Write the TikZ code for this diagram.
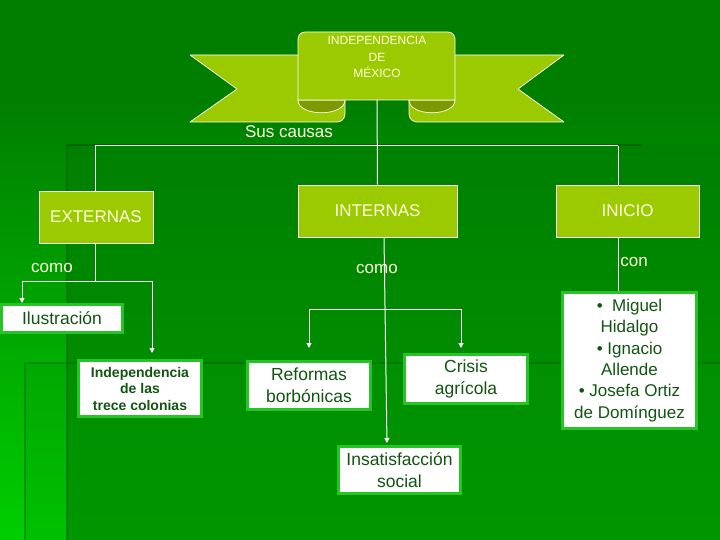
\documentclass[tikz,border=0pt]{standalone}
\usepackage{fontspec}
\setmainfont{Liberation Sans}
\usetikzlibrary{arrows.meta}
\definecolor{yg}{RGB}{155,202,0}
\definecolor{foldc}{RGB}{125,155,0}
\definecolor{cream}{RGB}{255,255,222}
\definecolor{dkg}{RGB}{18,84,18}
\definecolor{bord}{RGB}{38,196,38}
\definecolor{bgtop}{RGB}{0,126,0}
\definecolor{bgleft}{RGB}{0,206,0}
\definecolor{rectatop}{RGB}{0,128,0}
\definecolor{rectabot}{RGB}{0,150,0}
\definecolor{edge}{RGB}{0,95,0}
\tikzset{
  ygbox/.style={draw=white, line width=0.8pt, fill=yg, text=cream, inner sep=0pt,
    font=\fontsize{17}{20}\selectfont},
  wbox/.style={draw=bord, line width=3pt, fill=white, text=dkg, inner sep=0pt, align=center,
    font=\fontsize{17.5}{22}\selectfont},
  lbl/.style={text=cream, inner sep=0pt, font=\fontsize{17}{20}\selectfont},
  conn/.style={draw=white, line width=1pt},
  arr/.style={conn, -{Triangle[width=5pt,length=5pt]}},
  ribbon/.style={fill=yg, draw=white, line width=0.7pt, line join=round},
  foldpart/.style={fill=foldc, draw=white, line width=0.7pt}
}
\begin{document}
\begin{tikzpicture}[x=1pt,y=-1pt]
\useasboundingbox (0,0) rectangle (720,540);
% background
\fill[bgtop] (0,0) rectangle (720,540);
\shade[top color=bgtop, bottom color=bgleft] (0,100) rectangle (720,540);
\shade[top color=rectatop, bottom color=rectabot] (67,145) rectangle (720,540);
\fill[green!60!black, opacity=0.25] (25,363) rectangle (720,540);
\draw[edge, line width=2.5pt, opacity=0.8] (67,145) -- (642,145);
\draw[edge, line width=2.5pt, opacity=0.5] (67,145) -- (67,540);
\draw[edge, line width=2pt, opacity=0.45] (25,363) -- (720,363);
\draw[edge, line width=2pt, opacity=0.45] (25,363) -- (25,540);
% ribbon
\filldraw[ribbon] (190,55) -- (345,55) [rounded corners=8] -- (345,122) [sharp corners] -- (190,122) -- (237,89) -- cycle;
\filldraw[ribbon] (564,55) -- (409,55) [rounded corners=8] -- (409,122) [sharp corners] -- (564,122) -- (518,89) -- cycle;
\filldraw[foldpart] (298,100) .. controls (298,117) and (345,117) .. (345,100) -- cycle;
\filldraw[foldpart] (409,100) .. controls (409,117) and (455,117) .. (455,100) -- cycle;
\filldraw[ribbon] (298,100) [rounded corners=7] -- (298,32) -- (455,32) [sharp corners] -- (455,100) -- cycle;
\node[text=cream, align=center, inner sep=0pt, font=\fontsize{12}{16.5}\selectfont] (title) at (377,57) {INDEPENDENCIA\\DE\\MÉXICO};
\coordinate (tb) at (377,100);
% main boxes
\node[ygbox, minimum width=114pt, minimum height=52pt] (ext) at (96,217) {EXTERNAS};
\node[ygbox, minimum width=159pt, minimum height=52pt] (int) at (377.5,211) {INTERNAS};
\node[ygbox, minimum width=143pt, minimum height=52pt] (ini) at (627.5,211) {INICIO};
% white boxes
\node[wbox, minimum width=121pt, minimum height=28pt] (ilu) at (62,318.5) {Ilustración};
\node[wbox, minimum width=123pt, minimum height=56pt, font=\bfseries\fontsize{14}{16.5}\selectfont] (ind) at (140,388.5) {Independencia\\de las\\trece colonias};
\node[wbox, minimum width=123pt, minimum height=48pt] (ref) at (309,385.5) {Reformas\\borbónicas};
\node[wbox, minimum width=123pt, minimum height=49pt] (cri) at (466,379) {Crisis\\agrícola};
\node[wbox, minimum width=122pt, minimum height=47pt] (ins) at (399.5,470) {Insatisfacción\\social};
\node[wbox, minimum width=134pt, minimum height=136pt, font=\fontsize{17}{21.4}\selectfont] (mig) at (629.5,360.5) {•\ \ Miguel\\Hidalgo\\• Ignacio\\Allende\\• Josefa Ortiz\\de Domínguez};
% labels
\node[lbl] (sus) at (289,132) {Sus causas};
\node[lbl] (como1) at (52,268) {como};
\node[lbl] (como2) at (377,269) {como};
\node[lbl] (con) at (634,262) {con};
% connectors
\coordinate (busL) at (95,146);
\coordinate (busR) at (618,146);
\draw[conn] (tb) -- (int.north);
\draw[conn] (busL) -- (busR);
\draw[conn] (busL) -- (busL |- ext.north);
\draw[conn] (busR) -- (busR |- ini.north);
\coordinate (eb) at (95,281);
\coordinate (eL) at (22,281);
\coordinate (eR) at (152,281);
\draw[conn] (eb |- ext.south) -- (eb);
\draw[conn] (eL) -- (eR);
\draw[arr] (eL) -- (eL |- ilu.north);
\draw[arr, shorten >=6pt] (eR) -- (eR |- ind.north);
\draw[arr, shorten >=2pt] ([xshift=6.5pt]int.south) -- ([xshift=-12.5pt]ins.north);
\coordinate (iL) at (309,309);
\coordinate (iR) at (461,309);
\draw[conn] (iL) -- (iR);
\draw[arr, shorten >=12pt] (iL) -- (iL |- ref.north);
\draw[arr, shorten >=5pt] (iR) -- (iR |- cri.north);
\draw[conn] ([xshift=-9.5pt]ini.south) -- ([xshift=-11.5pt]mig.north);
\end{tikzpicture}
\end{document}
